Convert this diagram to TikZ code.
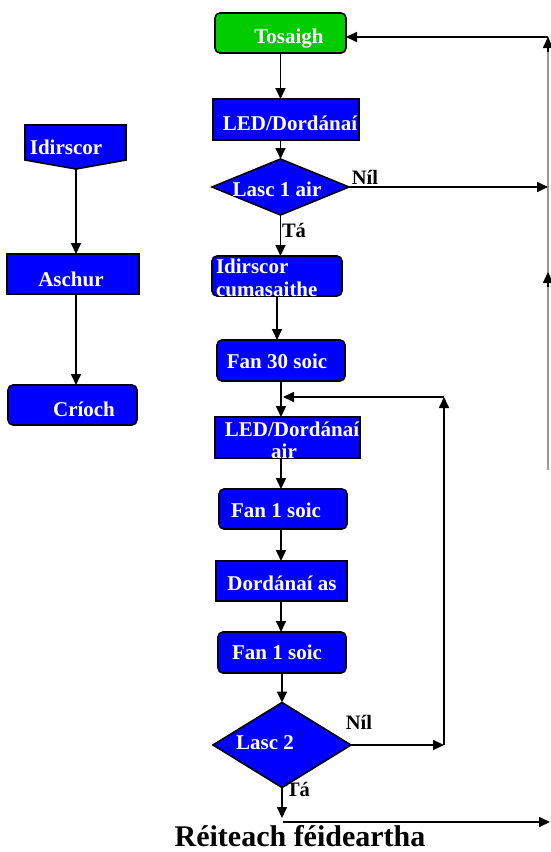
\documentclass[tikz,border=0pt]{standalone}
\usepackage{fontspec}
\setmainfont{Liberation Serif}
\usetikzlibrary{shapes.geometric,arrows.meta}
\definecolor{fcblue}{RGB}{0,0,255}
\definecolor{fcgreen}{RGB}{0,204,0}
\begin{document}
\begin{tikzpicture}[x=1pt,y=-1pt,
  every node/.style={inner sep=0pt,outer sep=0pt},
  sbox/.style={draw=black,line width=1.6pt,fill=fcblue},
  rbox/.style={sbox,rounded corners=5pt},
  dia/.style={sbox,diamond},
  txt/.style={text=white,font=\fontsize{21}{23}\selectfont\bfseries,anchor=base},
  lbl/.style={text=black,font=\fontsize{20.5}{23}\selectfont\bfseries,anchor=base},
  ttl/.style={text=black,font=\fontsize{30}{32}\selectfont\bfseries,anchor=base},
  arr/.style={-{Triangle[length=11pt,width=10pt]},line width=1.7pt},
  rline/.style={draw=gray!80,line width=1.2pt}]
\useasboundingbox (0,0) rectangle (550,852);

% ---- main column shapes
\node[rbox,fill=fcgreen,minimum width=131,minimum height=40] (tos) at (280.5,33) {};
\node[sbox,minimum width=146,minimum height=41] (led1) at (286,119.5) {};
\node[dia,minimum width=137,minimum height=56] (d1) at (280.5,187) {};
\node[rbox,minimum width=130,minimum height=40] (idc) at (277,276) {};
\node[rbox,minimum width=128,minimum height=41] (f30) at (281,360.5) {};
\node[sbox,minimum width=145,minimum height=41] (led2) at (287.5,437.5) {};
\node[rbox,minimum width=128,minimum height=40] (f1a) at (283,509) {};
\node[sbox,minimum width=131,minimum height=40] (das) at (281.5,581) {};
\node[rbox,minimum width=128,minimum height=41] (f1b) at (282,652.5) {};
\node[dia,minimum width=138,minimum height=85] (d2) at (282,745) {};

% ---- texts
\node[txt] (tTos) at (289,43) {Tosaigh};
\node[txt] (tLed1) at (290,130) {LED/Dordánaí};
\node[txt] (tD1) at (277,196) {Lasc 1 air};
\node[txt,anchor=base west] (tIc1) at (216,273) {Idirscor};
\node[txt,anchor=base west] (tIc2) at (216,296) {cumasaithe};
\node[txt] (tF30) at (277,368) {Fan 30 soic};
\node[txt] (tLed2a) at (292,436) {LED/Dordánaí};
\node[txt] (tLed2b) at (284,458) {air};
\node[txt] (tF1a) at (276,517) {Fan 1 soic};
\node[txt] (tDas) at (282,590) {Dordánaí as};
\node[txt] (tF1b) at (277,659) {Fan 1 soic};
\node[txt] (tD2) at (265,749) {Lasc 2};

\node[lbl] (nil1) at (365,184) {Níl};
\node[lbl] (ta1) at (294,237) {Tá};
\node[lbl] (nil2) at (359,729) {Níl};
\node[lbl] (ta2) at (298,796) {Tá};
\node[ttl] (title) at (300,846) {Réiteach féideartha};

% ---- left column
\draw[sbox] (25,125) -- (126,125) -- (126,160) -- (76,169) -- (25,160) -- cycle;
\coordinate (idTip) at (76,169);
\node[txt] (tId) at (66,154) {Idirscor};
\node[sbox,minimum width=132,minimum height=40] (asc) at (73,274) {};
\node[txt] (tAsc) at (71,286) {Aschur};
\node[rbox,minimum width=129,minimum height=40] (cri) at (72.5,405) {};
\node[txt] (tCri) at (84,416) {Críoch};

\draw[arr] (idTip) -- (idTip |- asc.north);
\draw[arr] (idTip |- asc.south) -- (idTip |- cri.north);

% ---- main arrows
\draw[arr] (tos.south) -- (tos.south |- led1.north);
\draw[arr] (d1.north |- led1.south) -- (d1.north);
\draw[arr] (d1.south) -- (d1.south |- idc.north);
\draw[arr] (idc.south) -- (idc.south |- f30.north);
\draw[arr] (f30.south) -- (f30.south |- led2.north);
\draw[arr] (f30.south |- led2.south) -- (f30.south |- f1a.north);
\draw[arr] (f30.south |- f1a.south) -- (f30.south |- das.north);
\draw[arr] (f30.south |- das.south) -- (f30.south |- f1b.north);
\draw[arr] (d2.north |- f1b.south) -- (d2.north);

% ---- right return line
\coordinate (rTop) at (548,37);
\coordinate (rTopB) at (548,52);
\coordinate (rMid) at (548,187);
\coordinate (rArr) at (548,272);
\coordinate (rArrB) at (548,287);
\coordinate (rLow) at (548,470);
\draw[rline] (rLow) -- (rTop);
\draw[arr] (rTop) -- (tos.east |- rTop);
\draw[arr] (rTopB) -- (rTop);
\draw[arr] (rArrB) -- (rArr);
\draw[arr] (d1.east) -- (rMid);

% ---- loop back
\coordinate (fbR) at (444,745);
\coordinate (fbT) at (444,397);
\coordinate (fbL) at (283,397);
\draw[arr] (d2.east) -- (fbR);
\draw[arr] (fbR) -- (fbT);
\draw[arr] (fbT) -- (fbL);

% ---- exit
\coordinate (exD) at (282,818);
\coordinate (exL) at (283,822);
\coordinate (exR) at (550,822);
\draw[arr] (d2.south) -- (exD);
\draw[arr] (exL) -- (exR);
\end{tikzpicture}
\end{document}
